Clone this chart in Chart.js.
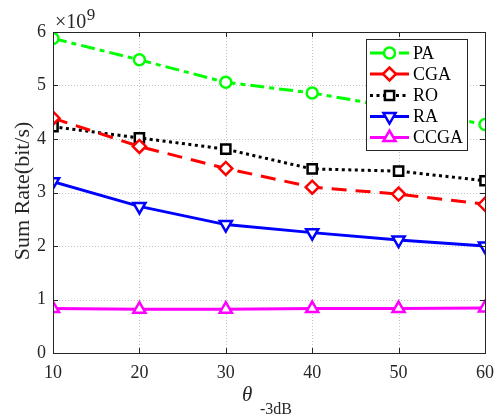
<!DOCTYPE html>
<html><head><meta charset="utf-8">
<script src="https://cdn.jsdelivr.net/npm/chart.js@4"></script>
<style>html,body{margin:0;padding:0;background:#fff;}#wrap{width:498px;height:415px;}</style>
</head><body><div id="wrap"><canvas id="c" width="498" height="415"></canvas></div>
<script>
const thetaValues = [10, 20, 30, 40, 50, 60];
const seriesNames = ['PA', 'CGA', 'RO', 'RA', 'CCGA'];
const paRate   = [5.88, 5.48, 5.06, 4.86, 4.58, 4.27];
const cgaRate  = [4.39, 3.86, 3.45, 3.10, 2.97, 2.78];
const roRate   = [4.23, 4.02, 3.81, 3.44, 3.40, 3.22];
const raRate   = [3.20, 2.74, 2.40, 2.25, 2.11, 2.00];
const ccgaRate = [0.83, 0.82, 0.82, 0.83, 0.83, 0.84];
const yTicks = [0, 1, 2, 3, 4, 5, 6];
const xTicks = [10, 20, 30, 40, 50, 60];

const SERIF = '"Liberation Serif", "Times New Roman", serif';
const BOX = '#262626';
const styles = [
  {color:'#00ff00', dash:[14,5,5,5], point:'circle', r:5.5, rot:0},
  {color:'#ff0000', dash:[15,9], point:'rectRot', r:6.5, rot:0},
  {color:'#000000', dash:[3,3.5], point:'rect', r:6.5, rot:0},
  {color:'#0000ff', dash:[], point:'triangle', r:7, rot:180},
  {color:'#ff00ff', dash:[], point:'triangle', r:7, rot:0}
];
const allData = [paRate, cgaRate, roRate, raRate, ccgaRate];

const datasets = allData.map((vals, i) => ({
  label: seriesNames[i],
  data: thetaValues.map((x, j) => ({x: x, y: vals[j] * 1e9})),
  borderColor: styles[i].color,
  backgroundColor: styles[i].color,
  borderWidth: 3,
  borderDash: styles[i].dash,
  pointStyle: styles[i].point,
  pointRadius: styles[i].r,
  pointRotation: styles[i].rot,
  pointBorderWidth: 2.5,
  pointBorderColor: styles[i].color,
  pointBackgroundColor: '#ffffff',
  tension: 0,
  fill: false
}));

const decor = {
  id: 'decor',
  beforeDatasetsDraw(chart) {
    const {ctx, chartArea: a, scales} = chart;
    ctx.save();
    ctx.strokeStyle = '#c4c4c4';
    ctx.lineWidth = 1;
    ctx.setLineDash([1, 2]);
    ctx.beginPath();
    xTicks.forEach(v => {
      const x = Math.round(scales.x.getPixelForValue(v)) + 0.5;
      ctx.moveTo(x, a.top); ctx.lineTo(x, a.bottom);
    });
    yTicks.forEach(v => {
      const y = Math.round(scales.y.getPixelForValue(v * 1e9)) + 0.5;
      ctx.moveTo(a.left, y); ctx.lineTo(a.right, y);
    });
    ctx.stroke();
    ctx.restore();
  },
  afterDraw(chart) {
    const {ctx, chartArea: a, scales} = chart;
    ctx.save();
    ctx.setLineDash([]);
    ctx.strokeStyle = BOX;
    ctx.lineWidth = 1;
    ctx.strokeRect(a.left + 0.5, a.top + 0.5, a.right - a.left, a.bottom - a.top);
    ctx.beginPath();
    xTicks.forEach(v => {
      const x = Math.round(scales.x.getPixelForValue(v)) + 0.5;
      ctx.moveTo(x, a.bottom); ctx.lineTo(x, a.bottom - 5);
      ctx.moveTo(x, a.top); ctx.lineTo(x, a.top + 5);
    });
    yTicks.forEach(v => {
      const y = Math.round(scales.y.getPixelForValue(v * 1e9)) + 0.5;
      ctx.moveTo(a.left, y); ctx.lineTo(a.left + 5, y);
      ctx.moveTo(a.right, y); ctx.lineTo(a.right - 5, y);
    });
    ctx.stroke();

    // legend
    ctx.strokeStyle = '#262626';
    const lx = 366.5, ly = 39.5, lw = 101, lh = 111;
    ctx.fillStyle = '#ffffff';
    ctx.fillRect(lx, ly, lw, lh);
    ctx.strokeRect(lx, ly, lw, lh);
    const rows = [53, 74, 95.5, 116.5, 137.5];
    ctx.font = '18px ' + SERIF;
    ctx.textBaseline = 'middle';
    ctx.textAlign = 'left';
    rows.forEach((y, i) => {
      const s = styles[i];
      ctx.save();
      ctx.strokeStyle = s.color;
      ctx.lineWidth = 3;
      ctx.setLineDash(s.dash);
      ctx.beginPath();
      ctx.moveTo(370, y); ctx.lineTo(409, y);
      ctx.stroke();
      ctx.restore();
      ctx.save();
      ctx.strokeStyle = s.color;
      ctx.fillStyle = '#ffffff';
      ctx.lineWidth = 2.5;
      ctx.setLineDash([]);
      Chart.helpers.drawPoint(ctx, {pointStyle: s.point, radius: s.r, rotation: s.rot, borderWidth: 2.5}, 389.5, y);
      ctx.restore();
      ctx.fillStyle = '#000000';
      ctx.fillText(seriesNames[i], 413, y + 1);
    });

    // exponent
    ctx.fillStyle = '#262626';
    ctx.textBaseline = 'alphabetic';
    ctx.textAlign = 'left';
    ctx.font = '20px ' + SERIF;
    ctx.fillText('\u00d710', 55, 28);
    const w = ctx.measureText('\u00d710').width;
    ctx.font = '17px ' + SERIF;
    ctx.fillText('9', 55 + w + 0.5, 20);

    ctx.save();
    ctx.translate(23, 191);
    ctx.rotate(-Math.PI / 2);
    ctx.textAlign = 'center';
    ctx.textBaseline = 'middle';
    ctx.font = '22px ' + SERIF;
    ctx.fillText('Sum Rate(bit/s)', 0, 0);
    ctx.restore();

    ctx.font = 'italic 21px ' + SERIF;
    ctx.textBaseline = 'alphabetic';
    ctx.textAlign = 'left';
    ctx.fillText('\u03b8', 242, 401);
    ctx.font = '16px ' + SERIF;
    ctx.fillText('-3dB', 260, 414);
    ctx.restore();
  }
};

const hiddenGrid = {display: true, drawTicks: false, tickLength: 0, color: 'rgba(0,0,0,0)'};
const axisBorder = {display: true, color: BOX, width: 1};

new Chart(document.getElementById('c'), {
  type: 'line',
  data: {datasets},
  options: {
    responsive: false,
    animation: false,
    events: [],
    layout: {padding: {left: 0, top: 32, right: 13, bottom: 0}},
    plugins: {legend: {display: false}, tooltip: {enabled: false}, title: {display: false}},
    scales: {
      x: {
        type: 'linear', min: 10, max: 60,
        afterFit(s) { s.height = 62; s.paddingLeft = 0; s.paddingRight = 0; },
        afterBuildTicks(s) { s.ticks = xTicks.map(v => ({value: v})); },
        ticks: {font: {family: SERIF, size: 18}, color: '#262626', padding: 9, maxRotation: 0},
        grid: hiddenGrid,
        border: axisBorder
      },
      y: {
        type: 'linear', min: 0, max: 6e9,
        afterFit(s) { s.width = 53; s.paddingTop = 0; s.paddingBottom = 0; },
        afterBuildTicks(s) { s.ticks = yTicks.map(v => ({value: v * 1e9})); },
        ticks: {font: {family: SERIF, size: 18}, color: '#262626', padding: 7, callback: v => String(Math.round(v / 1e9))},
        grid: hiddenGrid,
        border: axisBorder
      },
      x2: {
        type: 'linear', position: 'top', min: 10, max: 60,
        afterFit(s) { s.height = 0; s.paddingLeft = 0; s.paddingRight = 0; },
        ticks: {display: false},
        grid: hiddenGrid,
        border: axisBorder
      },
      y2: {
        type: 'linear', position: 'right', min: 0, max: 6e9,
        afterFit(s) { s.width = 0; s.paddingTop = 0; s.paddingBottom = 0; },
        ticks: {display: false},
        grid: hiddenGrid,
        border: axisBorder
      }
    }
  },
  plugins: [decor]
});
</script>
</body></html>
